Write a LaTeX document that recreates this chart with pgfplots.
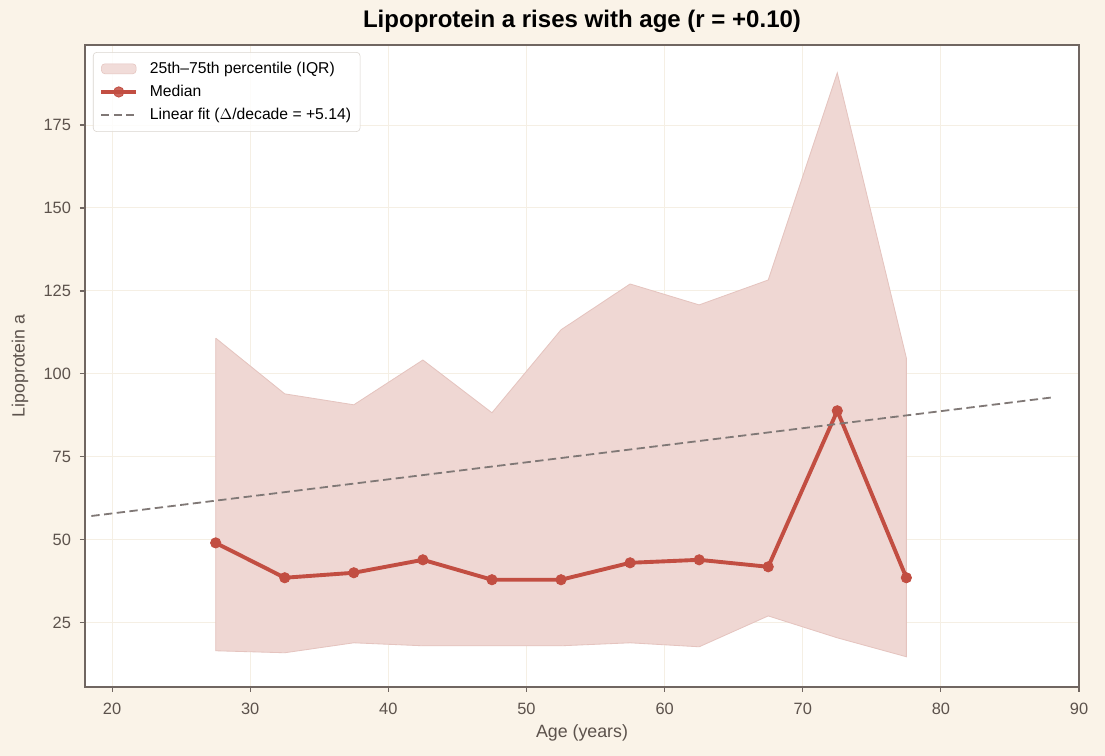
\documentclass[border=0pt]{standalone}
\usepackage{pgfplots}
\pgfplotsset{compat=1.18}
\usepackage{fontspec}
\setmainfont{Liberation Sans}

\definecolor{pagebg}{RGB}{250,243,232}
\definecolor{gridc}{RGB}{245,239,228}
\definecolor{framec}{RGB}{112,102,97}
\definecolor{labelc}{RGB}{92,82,76}
\definecolor{iqrfill}{RGB}{239,215,211}
\definecolor{iqredge}{RGB}{229,196,191}
\definecolor{medc}{RGB}{194,78,66}
\definecolor{fitc}{RGB}{128,120,118}
\definecolor{legframe}{RGB}{218,212,206}

% age-band summaries of lipoprotein a
\pgfplotstableread{
age  q25   med   q75
27.5 16.6  49.1  110.8
32.5 16.0  38.6  94.0
37.5 19.0  40.1  90.7
42.5 18.1  44.0  104.2
47.5 18.1  38.0  88.3
52.5 18.1  38.0  113.3
57.5 19.0  43.1  127.1
62.5 17.8  44.0  120.8
67.5 27.1  41.9  128.3
72.5 20.5  88.9  190.7
77.5 14.8  38.6  104.8
}\lpa

% outline of the interquartile band: upper edge, then lower edge backwards
\pgfplotstableread{
age  val
27.5 110.8
32.5 94.0
37.5 90.7
42.5 104.2
47.5 88.3
52.5 113.3
57.5 127.1
62.5 120.8
67.5 128.3
72.5 190.7
77.5 104.8
77.5 14.8
72.5 20.5
67.5 27.1
62.5 17.8
57.5 19.0
52.5 18.1
47.5 18.1
42.5 18.1
37.5 19.0
32.5 16.0
27.5 16.6
27.5 110.8
}\iqrband

\begin{document}
\begin{tikzpicture}
\fill[pagebg] (-61.2pt,-49.7pt) rectangle (734.4pt,494.6pt);
\begin{axis}[
  at={(0,0)}, anchor=south west,
  scale only axis, width=715.7pt, height=462.2pt,
  xmin=18.04, xmax=90, ymin=5.7, ymax=199.1,
  axis background/.style={fill=white},
  axis line style={framec, line width=0.8pt},
  xtick={20,30,...,90}, ytick={25,50,...,175},
  tick align=outside, major tick length=3.6pt,
  tick style={framec, line width=0.8pt},
  xtick pos=bottom, ytick pos=left,
  grid=major, major grid style={gridc, line width=0.7pt},
  /pgf/number format/assume math mode=true,
  ticklabel style={font=\fontsize{11.8}{13}\selectfont, text=labelc},
  xticklabel style={yshift=-4.3pt},
  yticklabel style={xshift=-3pt},
  title={Lipoprotein a rises with age (r = +0.10)},
  title style={font=\fontsize{17.3}{19}\selectfont\bfseries, at={(0.5,1.0233)}, anchor=center},
  xlabel={Age (years)}, ylabel={Lipoprotein a},
  label style={font=\fontsize{12.8}{14}\selectfont, text=labelc},
  xlabel style={at={(axis description cs:0.5,-0.0716)}, anchor=center},
  ylabel style={at={(axis description cs:-0.0654,0.5)}, anchor=center},
  legend style={at={(0.008,0.989)}, anchor=north west, draw=legframe, rounded corners=2.5pt,
    font=\fontsize{11.3}{13}\selectfont, fill=white, fill opacity=0.85, text opacity=1,
    row sep=3pt, inner xsep=4.5pt, inner ysep=5pt},
  legend cell align=left,
]
\addplot[fill=iqrfill, draw=iqredge, line width=0.6pt,
  legend image code/.code={\fill[iqrfill, draw=iqredge, line width=0.4pt] (0pt,-3.6pt) rectangle (25pt,3.6pt);
    \path (31.5pt,0pt);}]
  table[x=age, y=val] {\iqrband};
\addlegendentry{25th–75th percentile (IQR)}
\addplot[medc, line width=2.8pt, mark=*,
  mark options={solid, fill=medc, draw=medc, line width=0.6pt, scale=1},
  mark size=3.7pt,
  legend image code/.code={\draw[mark repeat=2, mark phase=2] plot coordinates {(0pt,0pt) (12.5pt,0pt) (25pt,0pt)};
    \path (31.5pt,0pt);}]
  table[x=age, y=med] {\lpa};
\addlegendentry{Median}
\addplot[fitc, line width=1.3pt, dash pattern=on 6pt off 3.2pt,
  legend image code/.code={\draw[dash pattern=on 5.5pt off 3.5pt] (0pt,0pt) -- (25pt,0pt);
    \path (31.5pt,0pt);}]
  coordinates {(18.5,57.2) (88,92.9)};
\addlegendentry{Linear fit ($\Delta$/decade = +5.14)}
\end{axis}
\end{tikzpicture}
\end{document}
